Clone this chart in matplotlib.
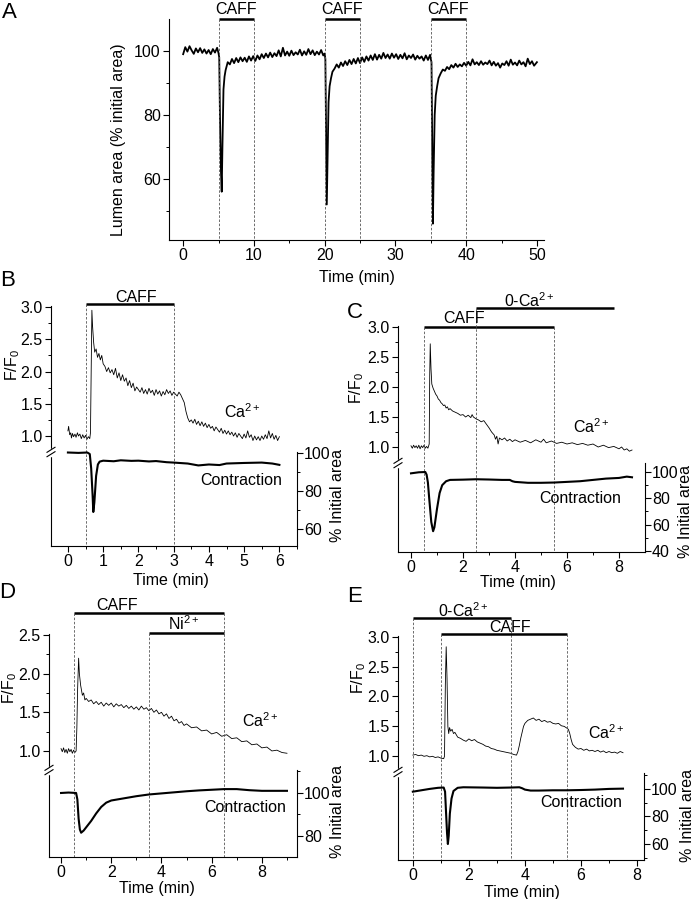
import numpy as np
import matplotlib
matplotlib.use("Agg")
import matplotlib.pyplot as plt
from matplotlib.lines import Line2D
from matplotlib.transforms import blended_transform_factory
from matplotlib.ticker import FixedLocator, FormatStrFormatter, MultipleLocator

plt.rcParams['font.family'] = ['Liberation Sans', 'DejaVu Sans']
plt.rcParams['mathtext.fontset'] = 'custom'
plt.rcParams['mathtext.rm'] = 'Liberation Sans'
plt.rcParams['mathtext.it'] = 'Liberation Sans:italic'
plt.rcParams['font.size'] = 11.5
plt.rcParams['axes.linewidth'] = 0.8

# ---------------- data ----------------
# A: lumen area (% initial), time in min
a_trace = [
    (0, 99.0), (0.3, 101.2), (0.6, 99.8), (0.9, 101.5), (1.2, 100.2), (1.5, 99.1), (1.8, 100.8),
    (2.1, 99.6), (2.4, 100.9), (2.7, 99.4), (3.0, 100.5), (3.3, 99.2), (3.6, 100.3), (3.9, 99.0),
    (4.2, 100.6), (4.5, 99.5), (4.8, 101.0), (5.0, 99.3), (5.1, 98.0),
    (5.2, 80), (5.35, 62), (5.45, 56), (5.55, 70), (5.7, 88), (5.85, 92), (6.0, 94),
    (6.3, 96.5), (6.6, 95.8), (6.9, 97.5), (7.2, 96.2), (7.5, 97.8), (7.8, 96.5), (8.1, 98.0),
    (8.4, 96.8), (8.7, 97.9), (9.0, 96.6), (9.3, 98.3), (9.6, 97.0), (9.9, 98.4), (10.2, 96.9),
    (10.5, 98.6), (10.8, 97.4), (11.1, 99.0), (11.4, 97.8), (11.7, 99.2), (12.0, 98.0), (12.3, 99.5),
    (12.6, 98.1), (12.9, 99.3), (13.2, 98.4), (13.5, 100.2), (13.8, 98.3), (14.1, 101.0), (14.4, 98.6),
    (14.7, 99.8), (15.0, 98.5), (15.3, 100.1), (15.6, 98.7), (15.9, 99.6), (16.2, 98.9), (16.5, 100.4),
    (16.8, 98.6), (17.1, 99.9), (17.4, 98.8), (17.7, 100.6), (18.0, 99.0), (18.3, 100.2), (18.6, 98.7),
    (18.9, 99.8), (19.2, 98.9), (19.5, 100.3), (19.8, 98.6), (20.0, 99.2), (20.1, 97.5),
    (20.2, 75), (20.3, 52), (20.4, 65), (20.55, 84), (20.7, 89), (20.9, 91.5), (21.1, 93.5),
    (21.4, 94.5), (21.7, 95.8), (22.0, 94.8), (22.3, 96.4), (22.6, 95.3), (22.9, 96.8), (23.2, 95.6),
    (23.5, 97.2), (23.8, 95.9), (24.1, 97.5), (24.4, 96.1), (24.7, 97.8), (25.0, 96.2), (25.3, 98.0),
    (25.6, 96.6), (25.9, 98.3), (26.2, 97.0), (26.5, 98.6), (26.8, 97.2), (27.1, 99.0), (27.4, 97.3),
    (27.7, 98.8), (28.0, 97.6), (28.3, 99.4), (28.6, 97.8), (28.9, 98.9), (29.2, 97.6), (29.5, 99.2),
    (29.8, 97.9), (30.1, 99.0), (30.4, 97.5), (30.7, 98.8), (31.0, 97.7), (31.3, 99.3), (31.6, 97.4),
    (31.9, 98.6), (32.2, 97.8), (32.5, 98.9), (32.8, 97.3), (33.1, 98.5), (33.4, 97.6), (33.7, 98.3),
    (34.0, 97.0), (34.3, 98.6), (34.6, 97.2), (34.9, 98.8), (35.0, 97.5), (35.1, 96.5),
    (35.2, 70), (35.3, 46), (35.4, 62), (35.55, 80), (35.7, 86), (35.9, 89), (36.1, 91.5),
    (36.4, 93.0), (36.7, 94.2), (37.0, 93.8), (37.3, 95.0), (37.6, 94.3), (37.9, 95.6), (38.2, 94.8),
    (38.5, 96.0), (38.8, 95.0), (39.1, 95.8), (39.4, 95.2), (39.7, 96.3), (40.0, 95.4), (40.3, 96.6),
    (40.6, 95.5), (40.9, 97.4), (41.2, 95.8), (41.5, 96.5), (41.8, 95.6), (42.1, 96.8), (42.4, 95.7),
    (42.7, 96.4), (43.0, 95.9), (43.3, 97.0), (43.6, 95.5), (43.9, 96.6), (44.2, 95.4), (44.5, 96.2),
    (44.8, 94.8), (45.1, 96.1), (45.4, 95.6), (45.7, 96.8), (46.0, 95.4), (46.3, 97.3), (46.6, 95.7),
    (46.9, 96.4), (47.2, 95.5), (47.5, 97.0), (47.8, 95.8), (48.1, 96.5), (48.4, 95.2), (48.7, 97.6),
    (49.0, 95.9), (49.3, 96.8), (49.6, 95.4), (50.0, 96.5),
]
a_caff = [(5, 10), (20, 25), (35, 40)]

# B
b_ca = [
    (0.0, 1.08), (0.02, 1.15), (0.05, 1.02), (0.08, 1.05), (0.1, 0.97), (0.13, 1.04), (0.16, 0.99),
    (0.2, 1.03), (0.23, 0.98), (0.27, 1.05), (0.3, 1.0), (0.34, 1.03), (0.38, 0.96), (0.42, 1.02),
    (0.46, 0.97), (0.5, 1.01), (0.54, 0.95), (0.58, 0.99), (0.62, 0.96), (0.64, 1.05), (0.66, 2.0),
    (0.68, 2.95), (0.70, 2.7), (0.73, 2.45), (0.76, 2.3), (0.8, 2.35), (0.84, 2.22), (0.88, 2.28),
    (0.92, 2.18), (0.96, 2.25), (1.0, 2.12), (1.05, 2.08), (1.1, 2.0), (1.15, 2.06), (1.2, 1.98),
    (1.25, 2.03), (1.3, 1.95), (1.35, 2.05), (1.4, 1.9), (1.45, 1.98), (1.5, 1.86), (1.55, 1.95),
    (1.6, 1.85), (1.65, 1.9), (1.7, 1.78), (1.75, 1.86), (1.8, 1.75), (1.85, 1.82), (1.9, 1.7),
    (1.95, 1.76), (2.0, 1.72), (2.05, 1.68), (2.1, 1.75), (2.15, 1.66), (2.2, 1.72), (2.25, 1.65),
    (2.3, 1.74), (2.35, 1.67), (2.4, 1.71), (2.45, 1.63), (2.5, 1.72), (2.55, 1.65), (2.6, 1.7),
    (2.65, 1.62), (2.7, 1.69), (2.75, 1.64), (2.8, 1.72), (2.85, 1.66), (2.9, 1.7), (2.95, 1.63),
    (3.0, 1.68), (3.05, 1.65), (3.1, 1.62), (3.15, 1.68), (3.2, 1.64), (3.25, 1.58), (3.3, 1.52),
    (3.35, 1.38), (3.4, 1.28), (3.45, 1.22), (3.5, 1.25), (3.55, 1.2), (3.6, 1.26), (3.65, 1.18),
    (3.7, 1.23), (3.75, 1.16), (3.8, 1.22), (3.85, 1.15), (3.9, 1.2), (3.95, 1.13), (4.0, 1.18),
    (4.05, 1.12), (4.1, 1.15), (4.15, 1.08), (4.2, 1.14), (4.25, 1.1), (4.3, 1.06), (4.35, 1.12),
    (4.4, 1.04), (4.45, 1.09), (4.5, 1.03), (4.55, 1.08), (4.6, 1.02), (4.65, 1.06), (4.7, 1.0),
    (4.75, 1.05), (4.8, 0.98), (4.85, 1.04), (4.9, 1.0), (4.95, 0.96), (5.0, 1.03), (5.05, 0.97),
    (5.1, 1.08), (5.15, 0.98), (5.2, 1.02), (5.25, 0.93), (5.3, 1.0), (5.35, 0.94), (5.4, 0.99),
    (5.45, 0.93), (5.5, 1.0), (5.55, 0.95), (5.6, 1.02), (5.65, 0.96), (5.7, 1.08), (5.75, 0.97),
    (5.8, 1.04), (5.85, 0.95), (5.9, 1.01), (5.95, 0.93), (6.0, 0.99),
]
b_con = [
    (0, 100.3), (0.3, 100.1), (0.55, 100.3), (0.62, 99.5), (0.66, 92), (0.7, 78), (0.72, 69),
    (0.75, 74), (0.8, 88), (0.85, 94), (0.9, 95.5), (1.0, 96), (1.3, 95.7), (1.5, 96.2), (1.8, 95.9),
    (2.0, 96.0), (2.3, 95.6), (2.5, 95.8), (2.8, 95.2), (3.0, 95.0), (3.4, 94.5), (3.7, 93.5),
    (4.0, 94.0), (4.3, 93.7), (4.5, 94.5), (5.0, 94.8), (5.5, 95.0), (5.8, 94.5), (6.0, 93.8),
]
b_caff = (0.5, 3.0)

# C
c_ca = [
    (0, 1.02), (0.05, 0.98), (0.1, 1.03), (0.15, 0.99), (0.2, 1.02), (0.25, 0.98), (0.3, 1.03),
    (0.35, 0.97), (0.4, 1.02), (0.45, 0.99), (0.5, 1.03), (0.55, 0.98), (0.6, 1.01), (0.65, 0.98),
    (0.7, 1.05), (0.72, 2.2), (0.74, 2.72), (0.77, 2.3), (0.8, 2.05), (0.85, 1.98), (0.9, 1.93),
    (0.95, 1.88), (1.0, 1.85), (1.05, 1.8), (1.1, 1.78), (1.15, 1.74), (1.2, 1.72), (1.25, 1.69),
    (1.3, 1.7), (1.35, 1.65), (1.4, 1.67), (1.45, 1.62), (1.5, 1.64), (1.6, 1.6), (1.7, 1.58),
    (1.8, 1.56), (1.9, 1.53), (2.0, 1.54), (2.1, 1.5), (2.2, 1.53), (2.3, 1.49), (2.35, 1.54),
    (2.4, 1.5), (2.5, 1.47), (2.6, 1.45), (2.7, 1.42), (2.8, 1.44), (2.9, 1.38), (3.0, 1.32),
    (3.1, 1.25), (3.2, 1.2), (3.25, 1.13), (3.3, 1.18), (3.35, 1.05), (3.4, 1.15), (3.5, 1.12),
    (3.6, 1.15), (3.7, 1.1), (3.8, 1.13), (3.9, 1.09), (4.0, 1.12), (4.2, 1.08), (4.4, 1.11),
    (4.6, 1.07), (4.8, 1.12), (5.0, 1.08), (5.1, 1.13), (5.2, 1.07), (5.4, 1.1), (5.6, 1.06),
    (5.8, 1.08), (6.0, 1.05), (6.2, 1.07), (6.4, 1.04), (6.6, 1.06), (6.8, 1.03), (7.0, 1.05),
    (7.2, 1.0), (7.4, 1.03), (7.6, 0.99), (7.8, 1.01), (8.0, 0.97), (8.1, 1.0), (8.2, 0.95),
    (8.3, 0.97), (8.4, 0.93), (8.5, 0.95),
]
c_con = [
    (0, 99), (0.3, 99.8), (0.55, 100), (0.6, 98), (0.65, 92), (0.7, 80), (0.78, 62), (0.85, 55),
    (0.9, 58), (1.0, 72), (1.1, 84), (1.2, 90), (1.35, 93), (1.5, 94), (2.0, 94.2), (2.5, 94.5),
    (3.0, 94.3), (3.5, 94.0), (3.8, 94.0), (3.9, 93.0), (4.0, 92.5), (4.5, 91.8), (5.0, 91.8),
    (5.5, 92.0), (6.0, 92.5), (6.5, 93.0), (7.0, 94.0), (7.5, 95.0), (8.0, 95.5), (8.3, 96.5),
    (8.5, 96.0),
]
c_caff = (0.5, 5.5)
c_zero_ca = (2.5, 7.8)

# D
d_ca = [
    (0, 1.03), (0.05, 0.99), (0.1, 1.04), (0.15, 0.98), (0.2, 1.02), (0.25, 0.97), (0.3, 1.03),
    (0.35, 0.99), (0.4, 1.02), (0.45, 0.97), (0.5, 1.01), (0.55, 0.98), (0.6, 1.0), (0.63, 1.3),
    (0.66, 1.8), (0.7, 2.2), (0.73, 2.0), (0.78, 1.85), (0.85, 1.72), (0.9, 1.75), (0.95, 1.66),
    (1.0, 1.68), (1.1, 1.64), (1.2, 1.66), (1.3, 1.61), (1.4, 1.64), (1.5, 1.6), (1.6, 1.63),
    (1.7, 1.58), (1.8, 1.62), (1.9, 1.59), (2.0, 1.62), (2.1, 1.57), (2.2, 1.61), (2.3, 1.58),
    (2.4, 1.6), (2.5, 1.56), (2.6, 1.59), (2.7, 1.55), (2.8, 1.58), (2.9, 1.54), (3.0, 1.57),
    (3.1, 1.53), (3.2, 1.58), (3.3, 1.54), (3.4, 1.56), (3.5, 1.52), (3.6, 1.55), (3.7, 1.5),
    (3.8, 1.53), (3.9, 1.48), (4.0, 1.5), (4.1, 1.45), (4.2, 1.48), (4.3, 1.42), (4.4, 1.45),
    (4.5, 1.39), (4.6, 1.41), (4.7, 1.36), (4.8, 1.38), (4.9, 1.33), (5.0, 1.35), (5.2, 1.30),
    (5.4, 1.31), (5.6, 1.26), (5.8, 1.27), (6.0, 1.22), (6.2, 1.24), (6.4, 1.19), (6.6, 1.21),
    (6.8, 1.16), (7.0, 1.17), (7.2, 1.12), (7.4, 1.13), (7.6, 1.08), (7.8, 1.09), (8.0, 1.04),
    (8.2, 1.05), (8.4, 1.0), (8.6, 1.01), (8.8, 0.98), (9.0, 0.97),
]
d_con = [
    (0, 100), (0.3, 100.2), (0.6, 100), (0.65, 97), (0.7, 88), (0.75, 83), (0.8, 81.5),
    (0.9, 82.5), (1.0, 84), (1.2, 87), (1.4, 90.5), (1.6, 93.5), (1.8, 95.5), (2.0, 96.5),
    (2.5, 97.5), (3.0, 98.5), (3.5, 99.3), (4.0, 99.8), (4.5, 100.3), (5.0, 100.8), (5.5, 101.2),
    (6.0, 101.5), (6.5, 101.8), (7.0, 101.8), (7.5, 101.3), (8.0, 101.0), (8.5, 101.0), (9.0, 101.0),
]
d_caff = (0.5, 6.5)
d_ni = (3.5, 6.5)

# E
e_ca = [
    (0, 1.02), (0.1, 1.03), (0.2, 1.01), (0.3, 1.02), (0.4, 1.0), (0.5, 1.01), (0.6, 0.99),
    (0.7, 1.0), (0.8, 0.98), (0.9, 0.99), (1.0, 0.97), (1.1, 0.96), (1.13, 1.0), (1.16, 2.2),
    (1.19, 2.83), (1.22, 2.3), (1.25, 1.5), (1.28, 1.38), (1.31, 1.48), (1.35, 1.42), (1.4, 1.45),
    (1.45, 1.38), (1.5, 1.4), (1.6, 1.32), (1.7, 1.3), (1.8, 1.27), (1.9, 1.25), (2.0, 1.29),
    (2.1, 1.26), (2.2, 1.28), (2.3, 1.24), (2.4, 1.22), (2.5, 1.2), (2.6, 1.17), (2.7, 1.16),
    (2.8, 1.13), (2.9, 1.12), (3.0, 1.1), (3.1, 1.09), (3.2, 1.08), (3.3, 1.07), (3.4, 1.06),
    (3.5, 1.05), (3.6, 1.03), (3.7, 1.02), (3.75, 1.08), (3.8, 1.18), (3.85, 1.3), (3.9, 1.4),
    (3.95, 1.5), (4.0, 1.55), (4.1, 1.6), (4.2, 1.62), (4.3, 1.64), (4.4, 1.6), (4.5, 1.62),
    (4.6, 1.58), (4.7, 1.6), (4.8, 1.57), (4.9, 1.58), (5.0, 1.55), (5.1, 1.54), (5.2, 1.55),
    (5.3, 1.51), (5.4, 1.5), (5.5, 1.47), (5.55, 1.45), (5.6, 1.38), (5.65, 1.28), (5.7, 1.2),
    (5.8, 1.15), (5.9, 1.12), (6.0, 1.13), (6.1, 1.1), (6.2, 1.12), (6.3, 1.09), (6.4, 1.1),
    (6.5, 1.08), (6.6, 1.1), (6.7, 1.07), (6.8, 1.09), (6.9, 1.06), (7.0, 1.08), (7.1, 1.06),
    (7.2, 1.07), (7.3, 1.05), (7.4, 1.08), (7.5, 1.06),
]
e_con = [
    (0, 98), (0.3, 99), (0.6, 100), (0.9, 100.8), (1.1, 101), (1.15, 98), (1.18, 85), (1.22, 68),
    (1.25, 60), (1.28, 66), (1.32, 82), (1.38, 93), (1.45, 98.5), (1.6, 100.8), (1.8, 101.2),
    (2.5, 101.0), (3.0, 100.8), (3.5, 101.0), (3.8, 101.2), (3.9, 100.5), (4.0, 99.5), (4.2, 98.8),
    (4.5, 98.8), (5.0, 99.0), (5.5, 99.0), (6.0, 99.2), (6.5, 99.5), (7.0, 100.0), (7.5, 100.2),
]
e_zero_ca = (0.0, 3.5)
e_caff = (1.0, 5.5)

# ---------------- layout (pixels of a 694 x 899 canvas) ----------------
W, H = 694, 899
fig = plt.figure(figsize=(W / 100, H / 100), dpi=100)


def box(l, t, r, b):
    return [l / W, 1 - b / H, (r - l) / W, (b - t) / H]


def fy(y):
    return 1 - y / H


def ftext(x, y, s, **kw):
    fig.text(x / W, fy(y), s, **kw)


DASH = dict(color='#555555', lw=0.6, ls=(0, (3, 2)), clip_on=False)
BAR = dict(color='k', lw=1.8, clip_on=False, solid_capstyle='butt')


def style_ticks(ax, pad=2):
    ax.tick_params(which='major', direction='out', length=4, width=0.8, pad=pad, labelsize=11.5)
    ax.tick_params(which='minor', direction='out', length=2.2, width=0.7)


def bars(ax, specs, bottom):
    tr = blended_transform_factory(ax.transData, fig.transFigure)
    for (x0, x1), ybar, dashed in specs:
        ax.plot([x0, x1], [fy(ybar)] * 2, transform=tr, **BAR)
        for xd in dashed:
            ax.plot([xd, xd], [fy(ybar), fy(bottom)], transform=tr, **DASH)


# ---------------- panel A ----------------
axA = fig.add_axes(box(169, 19, 544, 240))
at = np.array(a_trace)
axA.plot(at[:, 0], at[:, 1], color='k', lw=1.3)
axA.set_xlim(-2.0, 51.0)
axA.set_ylim(40.9, 110)
axA.spines['top'].set_visible(False)
axA.spines['right'].set_visible(False)
axA.set_xticks(range(0, 51, 10))
axA.xaxis.set_minor_locator(MultipleLocator(5))
axA.set_yticks([60, 80, 100])
axA.yaxis.set_minor_locator(FixedLocator([50, 70, 90]))
style_ticks(axA)
bars(axA, [(iv, 19, iv) for iv in a_caff], 240)
trA = blended_transform_factory(axA.transData, fig.transFigure)
for x0, x1 in a_caff:
    axA.text((x0 + x1) / 2, fy(14), 'CAFF', transform=trA, ha='center', va='baseline')
ftext(118, 140, 'Lumen area (% initial area)', rotation=90, ha='center', va='center')
ftext(357, 277, 'Time (min)', ha='center', va='center')
ftext(9, 13, 'A', fontsize=16, ha='center', va='center')


# ---------------- panels B-E ----------------
def panel(l, t, r, b, xlim, ca_lim, con_lim, ca, con, xmajor, xminor, ca_ticks, ca_minor,
          con_ticks, con_minor, con_top, brk):
    ax = fig.add_axes(box(l, t, r, b))
    ax2 = ax.twinx()
    ca = np.array(ca)
    con = np.array(con)
    ax.plot(ca[:, 0], ca[:, 1], color='k', lw=0.6)
    ax2.plot(con[:, 0], con[:, 1], color='k', lw=1.5)
    ax.set_xlim(*xlim)
    ax.set_ylim(*ca_lim)
    ax2.set_ylim(*con_lim)
    for s in ('top', 'right'):
        ax.spines[s].set_visible(False)
    for s in ('top', 'left', 'bottom'):
        ax2.spines[s].set_visible(False)
    ax2.spines['right'].set_bounds(con_lim[0], con_top)
    ax.set_xticks(xmajor)
    ax.xaxis.set_minor_locator(FixedLocator(xminor))
    ax.set_yticks(ca_ticks)
    ax.yaxis.set_minor_locator(FixedLocator(ca_minor))
    ax.yaxis.set_major_formatter(FormatStrFormatter('%.1f'))
    ax2.set_yticks(con_ticks)
    ax2.yaxis.set_minor_locator(FixedLocator(con_minor))
    style_ticks(ax)
    style_ticks(ax2, pad=1)
    # axis break on the left spine
    fig.add_artist(Line2D([l / W, l / W], [fy(brk - 2.5), fy(brk + 2.5)], color='white',
                          lw=2.5, transform=fig.transFigure, zorder=10))
    for d in (-2.2, 2.2):
        fig.add_artist(Line2D([(l - 4) / W, (l + 4) / W], [fy(brk + d + 2.5), fy(brk + d - 2.5)],
                              color='k', lw=0.8, transform=fig.transFigure, zorder=11))
    return ax


axB = panel(51, 306, 297, 546, (-0.48, 6.5), (-0.705, 3.016), (51.1, 177.4), b_ca, b_con,
            range(0, 7), np.arange(-0.5, 6.6, 1.0), [1.0, 1.5, 2.0, 2.5, 3.0],
            [1.25, 1.75, 2.25, 2.75], [60, 80, 100], [70, 90], 100.5, 452)
bars(axB, [(b_caff, 304, b_caff)], 546)
ftext(136, 302, 'CAFF', ha='center', va='baseline')
ftext(224, 418, 'Ca$^{2+}$', ha='left', va='baseline')
ftext(200, 485, 'Contraction', ha='left', va='baseline')
ftext(13, 365, 'F/F$_0$', rotation=90, ha='center', va='center')
ftext(338, 496, '% Initial area', rotation=90, ha='center', va='center')
ftext(171, 580, 'Time (min)', ha='center', va='center')
ftext(8, 280, 'B', fontsize=16, ha='center', va='center')

axC = panel(398, 326, 645, 552, (-0.5, 9.0), (-0.75, 3.017), (39.2, 211.0), c_ca, c_con,
            range(0, 9, 2), [1, 3, 5, 7], [1.0, 1.5, 2.0, 2.5, 3.0],
            [1.25, 1.75, 2.25, 2.75], [40, 60, 80, 100], [50, 70, 90], 107, 463)
bars(axC, [(c_caff, 327, c_caff), (c_zero_ca, 308, (c_zero_ca[0],))], 552)
ftext(464, 323, 'CAFF', ha='center', va='baseline')
ftext(504, 307, '0-Ca$^{2+}$', ha='left', va='baseline')
ftext(573, 433, 'Ca$^{2+}$', ha='left', va='baseline')
ftext(539, 503, 'Contraction', ha='left', va='baseline')
ftext(357, 388, 'F/F$_0$', rotation=90, ha='center', va='center')
ftext(686, 512, '% Initial area', rotation=90, ha='center', va='center')
ftext(518, 583, 'Time (min)', ha='center', va='center')
ftext(355, 313, 'C', fontsize=16, ha='center', va='center')

axD = panel(49, 634, 297, 857, (-0.48, 9.4), (-0.372, 2.513), (70.2, 174.0), d_ca, d_con,
            range(0, 9, 2), [1, 3, 5, 7, 9], [1.0, 1.5, 2.0, 2.5],
            [1.25, 1.75, 2.25], [80, 100], [90, 110], 110.7, 770)
bars(axD, [(d_caff, 613, d_caff), (d_ni, 633, (d_ni[0],))], 857)
ftext(117, 610, 'CAFF', ha='center', va='baseline')
ftext(168, 630, 'Ni$^{2+}$', ha='left', va='baseline')
ftext(242, 727, 'Ca$^{2+}$', ha='left', va='baseline')
ftext(204, 812, 'Contraction', ha='left', va='baseline')
ftext(10, 688, 'F/F$_0$', rotation=90, ha='center', va='center')
ftext(338, 812, '% Initial area', rotation=90, ha='center', va='center')
ftext(157, 889, 'Time (min)', ha='center', va='center')
ftext(7, 592, 'D', fontsize=16, ha='center', va='center')

axE = panel(398, 636, 644, 860, (-0.53, 8.25), (-0.733, 3.01), (48.4, 211.0), e_ca, e_con,
            range(0, 9, 2), [1, 3, 5, 7], [1.0, 1.5, 2.0, 2.5, 3.0],
            [1.25, 1.75, 2.25, 2.75], [60, 80, 100], [50, 70, 90, 110], 111.5, 772)
bars(axE, [(e_zero_ca, 618, e_zero_ca), (e_caff, 634, e_caff)], 860)
ftext(438, 617, '0-Ca$^{2+}$', ha='left', va='baseline')
ftext(510, 632, 'CAFF', ha='center', va='baseline')
ftext(588, 739, 'Ca$^{2+}$', ha='left', va='baseline')
ftext(540, 807, 'Contraction', ha='left', va='baseline')
ftext(359, 678, 'F/F$_0$', rotation=90, ha='center', va='center')
ftext(688, 815, '% Initial area', rotation=90, ha='center', va='center')
ftext(522, 892, 'Time (min)', ha='center', va='center')
ftext(355, 596, 'E', fontsize=16, ha='center', va='center')

fig.savefig('out.png', dpi=100)
